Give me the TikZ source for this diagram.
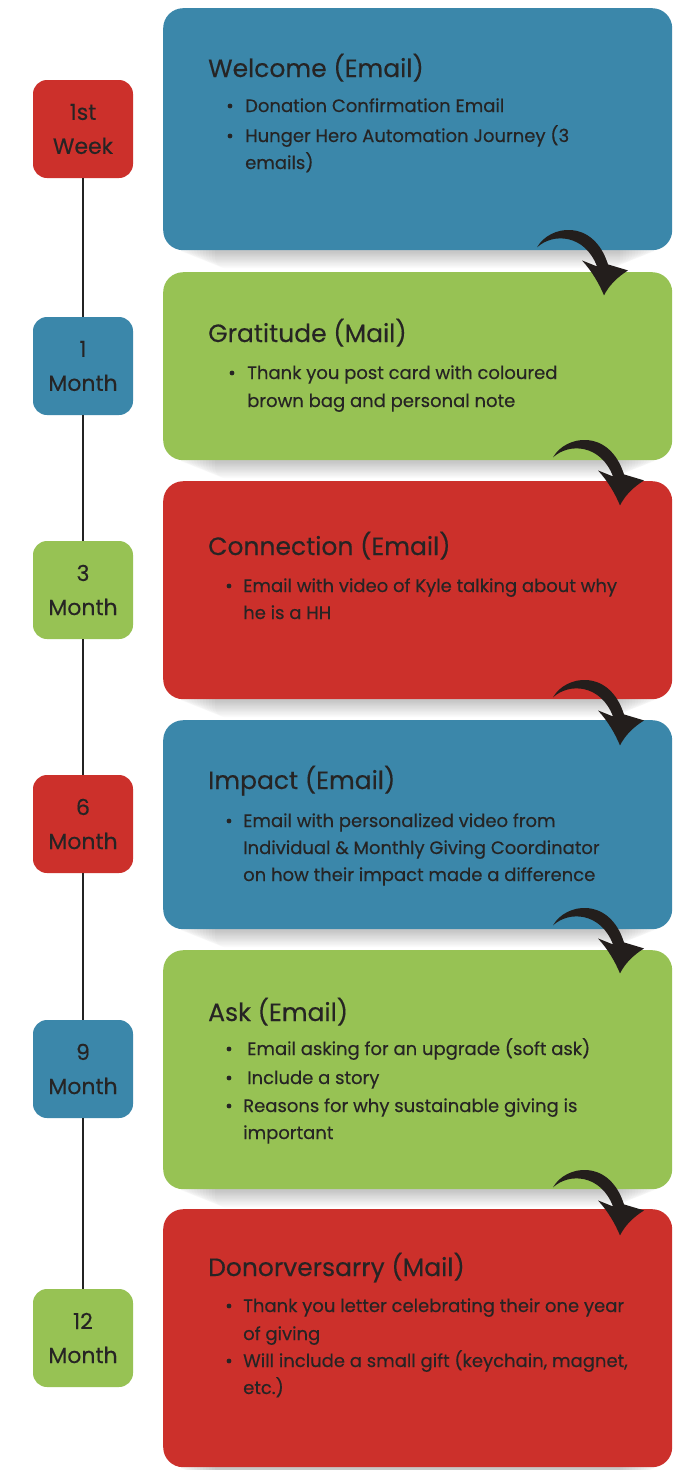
\documentclass[tikz,border=0pt]{standalone}
\usepackage{fontspec}
\setmainfont{Poppins}[FakeBold=0.35]
\usetikzlibrary{calc,backgrounds}
\definecolor{blueC}{RGB}{59,135,170}
\definecolor{greenC}{RGB}{151,194,84}
\definecolor{redC}{RGB}{204,48,43}
\definecolor{textC}{RGB}{38,36,36}
\definecolor{lineC}{RGB}{35,35,35}
\definecolor{arrowC}{RGB}{35,30,28}
\newcommand\curlyarrow[1]{%
  \fill[arrowC, shift={(#1)}] (0,0) .. controls (12,-22) and (56,-30) .. (71,17)
    -- (91,23) .. controls (80,30) and (72,38) .. (67,48)
    .. controls (62,36) and (55,24) .. (45,13)
    -- (60,19) .. controls (48,-13) and (16,-15) .. (0,0) -- cycle;}
\newcommand\softshadow[1]{%
  \foreach \k in {1,...,14}{%
    \fill[black, opacity=0.016, rounded corners=10pt]
      ($(#1.south west)+(10+3*\k,-40)$) rectangle ($(#1.south east)+(-10-3*\k,1+1.2*\k)$);}}
\begin{document}
\begin{tikzpicture}[x=1pt,y=-1pt,
  bigbox/.style={rounded corners=20pt, minimum width=509pt, anchor=north west, inner sep=0pt},
  smallbox/.style={rounded corners=14pt, minimum width=100pt, minimum height=98pt, inner sep=0pt,
     align=center, text=textC, font=\fontsize{22}{34}\selectfont},
  ttl/.style={anchor=base west, inner sep=0pt, text=textC, font=\fontsize{25}{30}\selectfont},
  btext/.style={anchor=base west, inner sep=0pt, text=textC, font=\fontsize{18}{27}\selectfont},
  tline/.style={draw=lineC, line width=2.5pt},
  dot/.style={fill=textC}
]
\useasboundingbox (0,0) rectangle (691,1470);

% big boxes
\node[bigbox, fill=blueC, minimum height=242pt] (b1) at (163,8) {};
\node[bigbox, fill=greenC, minimum height=188pt] (b2) at (163,272) {};
\node[bigbox, fill=redC, minimum height=218pt] (b3) at (163,481) {};
\node[bigbox, fill=blueC, minimum height=209pt] (b4) at (163,720) {};
\node[bigbox, fill=greenC, minimum height=239pt] (b5) at (163,950) {};
\node[bigbox, fill=redC, minimum height=258pt] (b6) at (163,1209) {};

\begin{pgfonlayer}{background}
\fill[white] (0,0) rectangle (691,1470);
\softshadow{b1}
\softshadow{b2}
\softshadow{b3}
\softshadow{b4}
\softshadow{b5}
\softshadow{b6}
\end{pgfonlayer}

% timeline boxes
\node[smallbox, fill=redC] (w1) at (83,129) {1st\\Week};
\node[smallbox, fill=blueC] (m1) at (83,366) {1\\Month};
\node[smallbox, fill=greenC] (m3) at (83,590) {3\\Month};
\node[smallbox, fill=redC] (m6) at (83,824) {6\\Month};
\node[smallbox, fill=blueC] (m9) at (83,1069) {9\\Month};
\node[smallbox, fill=greenC] (m12) at (83,1338) {12\\Month};
\draw[tline] (w1.south) -- (m1.north);
\draw[tline] (m1.south) -- (m3.north);
\draw[tline] (m3.south) -- (m6.north);
\draw[tline] (m6.south) -- (m9.north);
\draw[tline] (m9.south) -- (m12.north);

% box 1
\node[ttl] (t1) at (208,77) {Welcome (Email)};
\fill[dot] (230,106) circle (2.4);
\fill[dot] (230,136) circle (2.4);
\node[btext] (t1a) at (245,112) {Donation Confirmation Email};
\node[btext] (t1b) at (245,142) {Hunger Hero Automation Journey (3};
\node[btext] (t1c) at (245,169) {emails)};
% box 2
\node[ttl] (t2) at (208,342) {Gratitude (Mail)};
\fill[dot] (232,373) circle (2.4);
\node[btext] (t2a) at (247,379) {Thank you post card with coloured};
\node[btext] (t2b) at (247,407) {brown bag and personal note};
% box 3
\node[ttl] (t3) at (208,555) {Connection (Email)};
\fill[dot] (229,586) circle (2.4);
\node[btext] (t3a) at (243,592) {Email with video of Kyle talking about why};
\node[btext] (t3b) at (243,619) {he is a HH};
% box 4
\node[ttl] (t4) at (208,789) {Impact (Email)};
\fill[dot] (229,821) circle (2.4);
\node[btext] (t4a) at (243,827) {Email with personalized video from};
\node[btext] (t4b) at (243,854) {Individual \& Monthly Giving Coordinator};
\node[btext] (t4c) at (243,881) {on how their impact made a difference};
% box 5
\node[ttl] (t5) at (208,1021) {Ask (Email)};
\fill[dot] (229,1049) circle (2.4);
\fill[dot] (229,1078) circle (2.4);
\fill[dot] (229,1106) circle (2.4);
\node[btext] (t5a) at (247,1055) {Email asking for an upgrade (soft ask)};
\node[btext] (t5b) at (247,1084) {Include a story};
\node[btext] (t5c) at (243,1112) {Reasons for why sustainable giving is};
\node[btext] (t5d) at (243,1139) {important};
% box 6
\node[ttl] (t6) at (208,1276) {Donorversarry (Mail)};
\fill[dot] (229,1306) circle (2.4);
\fill[dot] (229,1361) circle (2.4);
\node[btext] (t6a) at (243,1312) {Thank you letter celebrating their one year};
\node[btext] (t6b) at (243,1340) {of giving};
\node[btext] (t6c) at (243,1367) {Will include a small gift (keychain, magnet,};
\node[btext] (t6d) at (243,1394) {etc.)};

% curved arrows between boxes
\coordinate (a1) at ($(b1.south west)+(374,-3)$);
\coordinate (a2) at ($(b2.south west)+(390,-3)$);
\coordinate (a3) at ($(b3.south west)+(390,-2)$);
\coordinate (a4) at ($(b4.south west)+(390,-4)$);
\coordinate (a5) at ($(b5.south west)+(390,-2)$);
\curlyarrow{a1}
\curlyarrow{a2}
\curlyarrow{a3}
\curlyarrow{a4}
\curlyarrow{a5}
\end{tikzpicture}
\end{document}
